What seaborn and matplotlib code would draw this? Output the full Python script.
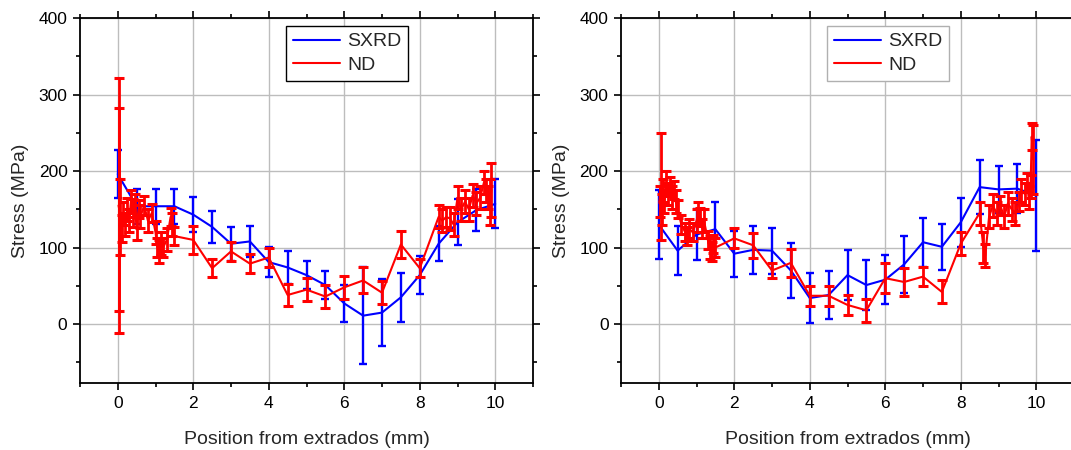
import numpy as np
import pandas as pd
import matplotlib
matplotlib.use("Agg")
import matplotlib.pyplot as plt
from matplotlib.lines import Line2D
from matplotlib.ticker import MultipleLocator
import seaborn as sns

# ---------------- data ----------------
# Left panel
sxrd_l_x = [0, 0.5, 1.0, 1.5, 2.0, 2.5, 3.0, 3.5, 4.0, 4.5, 5.0, 5.5, 6.0, 6.5, 7.0, 7.5, 8.0, 8.5, 9.0, 9.5, 10.0]
sxrd_l_y = [196, 154, 154, 154, 143, 127, 105, 108, 81, 74, 64, 51, 27, 11, 15, 35, 64, 105, 133, 149, 157]
sxrd_l_e = [31, 23, 23, 23, 23, 21, 22, 20, 20, 21, 18, 18, 24, 63, 44, 32, 25, 23, 30, 28, 32]

nd_l_x = [0.02, 0.04, 0.06, 0.1, 0.15, 0.2, 0.25, 0.3, 0.35, 0.4, 0.45, 0.5, 0.55, 0.6, 0.7, 0.8,
          0.9, 1.0, 1.05, 1.1, 1.15, 1.2, 1.3, 1.4, 1.45, 1.5, 2.0, 2.5, 3.0, 3.5, 4.0, 4.5,
          5.0, 5.5, 6.0, 6.5, 7.0, 7.5, 8.0, 8.5, 8.6, 8.7, 8.8, 8.9, 9.0, 9.1, 9.2, 9.3,
          9.4, 9.5, 9.6, 9.7, 9.75, 9.8, 9.85, 9.9]
nd_l_y = [155, 150, 140, 125, 145, 130, 150, 135, 160, 145, 155, 125, 150, 140, 155, 135,
          145, 120, 100, 95, 105, 100, 110, 140, 130, 115, 110, 73, 95, 79, 87, 38,
          45, 36, 48, 57, 41, 104, 73, 140, 135, 140, 138, 130, 165, 150, 160, 150,
          168, 158, 165, 185, 175, 165, 160, 175]
nd_l_e = [167, 133, 50, 18, 15, 15, 15, 15, 15, 18, 15, 15, 12, 15, 12, 15,
          12, 15, 12, 15, 15, 12, 15, 12, 15, 12, 18, 12, 12, 12, 13, 15,
          15, 15, 15, 17, 15, 18, 12, 15, 15, 13, 15, 15, 15, 15, 15, 15,
          15, 15, 15, 15, 15, 15, 30, 35]

# Right panel
sxrd_r_x = [0, 0.5, 1.0, 1.5, 2.0, 2.5, 3.0, 3.5, 4.0, 4.5, 5.0, 5.5, 6.0, 6.5, 7.0, 7.5, 8.0, 8.5, 9.0, 9.5, 10.0]
sxrd_r_y = [130, 96, 117, 124, 92, 97, 96, 70, 34, 38, 64, 51, 58, 78, 107, 101, 133, 179, 176, 177, 168]
sxrd_r_e = [45, 32, 33, 36, 30, 31, 30, 36, 33, 32, 33, 33, 32, 37, 32, 30, 32, 35, 31, 32, 72]

nd_r_x = [0.02, 0.05, 0.08, 0.1, 0.15, 0.2, 0.25, 0.3, 0.35, 0.4, 0.45, 0.5, 0.6, 0.7, 0.75, 0.8,
          0.9, 1.0, 1.05, 1.1, 1.15, 1.2, 1.3, 1.35, 1.4, 1.45, 1.5, 2.0, 2.5, 3.0, 3.5, 4.0,
          4.5, 5.0, 5.5, 6.0, 6.5, 7.0, 7.5, 8.0, 8.5, 8.6, 8.65, 8.75, 8.85, 8.95, 9.05, 9.15,
          9.25, 9.35, 9.45, 9.55, 9.6, 9.7, 9.75, 9.8, 9.85, 9.88, 9.92]
nd_r_y = [160, 180, 150, 175, 160, 185, 170, 180, 165, 175, 160, 150, 130, 120, 115, 125,
          120, 135, 145, 140, 125, 135, 110, 100, 95, 105, 100, 112, 103, 70, 80, 37,
          37, 25, 18, 60, 55, 62, 42, 105, 145, 100, 90, 140, 155, 145, 155, 140,
          158, 150, 145, 160, 175, 170, 185, 165, 180, 245, 215]
nd_r_e = [20, 70, 20, 15, 15, 15, 15, 12, 15, 12, 15, 12, 12, 12, 12, 12,
          12, 15, 15, 12, 12, 15, 12, 15, 12, 12, 12, 13, 16, 10, 18, 13,
          13, 13, 15, 20, 18, 12, 15, 15, 15, 20, 15, 15, 15, 15, 13, 15,
          15, 15, 15, 12, 15, 15, 12, 15, 15, 18, 45]

series_labels = ["SXRD", "ND"]
x_label = "Position from extrados (mm)"
y_label = "Stress (MPa)"

# ---------------- style ----------------
sns.set_theme(style="ticks")
plt.rcParams["font.family"] = ["Liberation Sans", "DejaVu Sans"]

BLUE = "#0000ff"
RED = "#ff0000"

fig = plt.figure(figsize=(10.71, 4.5), dpi=100)
ax_l = fig.add_axes([80 / 1071, 67 / 450, 453 / 1071, 365 / 450])
ax_r = fig.add_axes([621 / 1071, 67 / 450, 453 / 1071, 365 / 450])


def draw(ax, sx, sy, se, nx, ny, ne, legend_edge):
    d_s = pd.DataFrame({"x": sx, "y": sy})
    d_n = pd.DataFrame({"x": nx, "y": ny})
    ax.errorbar(sx, sy, yerr=se, fmt="none", ecolor=BLUE, elinewidth=1.7,
                capsize=3.2, capthick=1.7, zorder=3)
    sns.lineplot(data=d_s, x="x", y="y", ax=ax, color=BLUE, lw=1.5,
                 estimator=None, sort=False, zorder=3)
    ax.errorbar(nx, ny, yerr=ne, fmt="none", ecolor=RED, elinewidth=2.0,
                capsize=3.6, capthick=2.2, zorder=4)
    sns.lineplot(data=d_n, x="x", y="y", ax=ax, color=RED, lw=1.5,
                 estimator=None, sort=False, zorder=4)

    ax.set_xlim(-1, 11)
    ax.set_ylim(-77, 400)
    ax.xaxis.set_major_locator(MultipleLocator(2))
    ax.xaxis.set_minor_locator(MultipleLocator(1))
    ax.yaxis.set_major_locator(MultipleLocator(100))
    ax.yaxis.set_minor_locator(MultipleLocator(50))
    ax.grid(True, which="major", color="#bdbdbd", lw=1.0, zorder=0)
    ax.set_axisbelow(True)
    ax.tick_params(which="both", direction="out", top=True, right=True,
                   labeltop=False, labelright=False, colors="black",
                   labelsize=12.5, width=1.2)
    ax.tick_params(which="major", length=5, pad=4)
    ax.tick_params(which="minor", length=3)
    for sp in ax.spines.values():
        sp.set_color("black")
        sp.set_linewidth(1.3)
    ax.set_xlabel(x_label, fontsize=14, labelpad=15)
    ax.set_ylabel(y_label, fontsize=14, labelpad=7)

    handles = [Line2D([], [], color=BLUE, lw=1.5), Line2D([], [], color=RED, lw=1.5)]
    leg = ax.legend(handles, series_labels, loc="upper left",
                    bbox_to_anchor=(0.455, 0.978), fontsize=14, frameon=True,
                    fancybox=False, handlelength=2.4, handletextpad=0.4,
                    borderpad=0.35, labelspacing=0.3, borderaxespad=0.0)
    leg.get_frame().set_edgecolor(legend_edge)
    leg.get_frame().set_linewidth(1.0)
    leg.get_frame().set_alpha(1.0)


draw(ax_l, sxrd_l_x, sxrd_l_y, sxrd_l_e, nd_l_x, nd_l_y, nd_l_e, "black")
draw(ax_r, sxrd_r_x, sxrd_r_y, sxrd_r_e, nd_r_x, nd_r_y, nd_r_e, "#b0b0b0")

fig.savefig("out.png", dpi=100)
